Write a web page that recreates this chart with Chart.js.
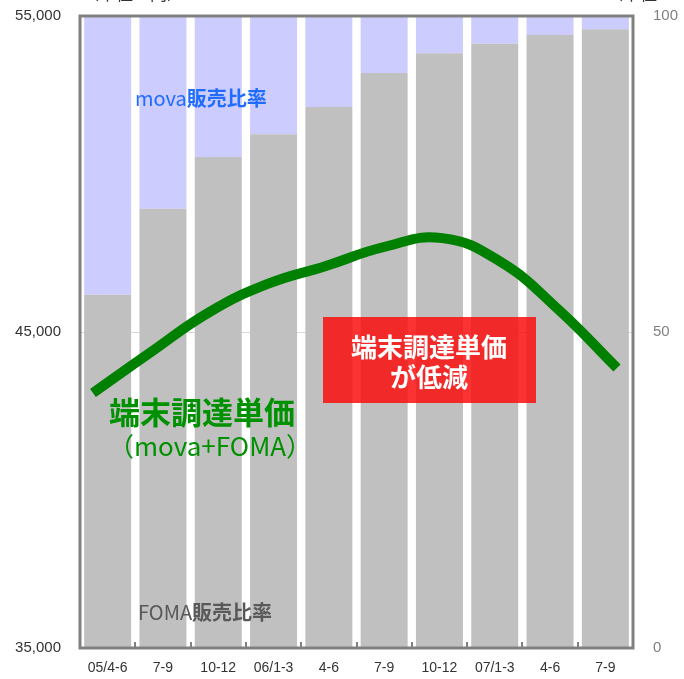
<!DOCTYPE html>
<html>
<head>
<meta charset="utf-8">
<script src="https://cdn.jsdelivr.net/npm/chart.js@4"></script>
<style>
  body { margin: 0; background: #fff; }
  #wrap { width: 684px; height: 679px; position: relative; }
</style>
</head>
<body>
<div id="wrap"><canvas id="chartTanka"></canvas></div>
<script>
// 四半期
var quarters = ['05/4-6', '7-9', '10-12', '06/1-3', '4-6', '7-9', '10-12', '07/1-3', '4-6', '7-9'];
// FOMA販売比率 (%)
var fomaRatio = [55.9, 69.5, 77.7, 81.3, 85.6, 91.0, 94.1, 95.6, 97.0, 97.9];
// mova販売比率 (%)
var movaRatio = fomaRatio.map(function(v) { return Math.round((100 - v) * 10) / 10; });
// 端末調達単価 (円)
var tanka = [43070, 44370, 45630, 46520, 47090, 47690, 47970, 47220, 45700, 43860];
// 軸の目盛
var yenTicks = [35000, 45000, 55000];
var pctTicks = [0, 50, 100];

var JP = '"Noto Sans CJK JP", "Noto Sans", sans-serif';
var LAT = '"Liberation Sans", Arial, sans-serif';

// 2種類の書体を続けて描く
function drawMixed(ctx, parts, x, y) {
    parts.forEach(function(p) {
        ctx.font = p.font;
        ctx.fillStyle = p.color;
        ctx.fillText(p.text, x, y);
        x += ctx.measureText(p.text).width;
    });
}

var labelsPlugin = {
    id: 'labels',
    afterDatasetsDraw: function(chart) {
        var ctx = chart.ctx;
        var a = chart.chartArea;
        var sx = chart.scales.x;
        ctx.save();

        // 枠
        ctx.strokeStyle = '#808080';
        ctx.lineWidth = 3;
        ctx.strokeRect(a.left, a.top, a.right - a.left, a.bottom - a.top);

        // 横軸の目盛（内向き）
        ctx.lineWidth = 2;
        ctx.beginPath();
        for (var i = 0; i < quarters.length - 1; i++) {
            var bx = Math.round((sx.getPixelForValue(i) + sx.getPixelForValue(i + 1)) / 2);
            ctx.moveTo(bx, a.bottom);
            ctx.lineTo(bx, a.bottom - 6);
        }
        ctx.stroke();

        ctx.textBaseline = 'middle';
        ctx.textAlign = 'left';
        drawMixed(ctx, [
            { text: 'mova', font: '20px ' + JP, color: '#1f6cff' },
            { text: '販売比率', font: 'bold 20px ' + JP, color: '#1f6cff' }
        ], 135, 98);
        drawMixed(ctx, [
            { text: 'FOMA', font: '20px ' + JP, color: '#595959' },
            { text: '販売比率', font: 'bold 20px ' + JP, color: '#595959' }
        ], 138, 612);

        // 端末調達単価ラベル
        ctx.fillStyle = '#009100';
        ctx.font = 'bold 31px ' + JP;
        ctx.fillText('端末調達単価', 109, 412);
        ctx.font = '26px ' + JP;
        ctx.fillText('（mova+FOMA）', 108, 446);

        // 赤い囲み
        ctx.fillStyle = 'rgba(250, 10, 10, 0.83)';
        ctx.fillRect(323, 317, 213, 86);
        ctx.fillStyle = '#ffffff';
        ctx.textAlign = 'center';
        ctx.font = 'bold 26px ' + JP;
        ctx.fillText('端末調達単価', 429, 347);
        ctx.fillText('が低減', 429, 377);

        // 単位（上端で切れている）
        ctx.fillStyle = '#333333';
        ctx.font = '17px ' + JP;
        ctx.textBaseline = 'bottom';
        ctx.textAlign = 'left';
        ctx.fillText('（単位：円）', 82, 2);
        ctx.fillText('（単位：％）', 606, 2);
        ctx.restore();
    }
};

var ctxTanka = document.getElementById('chartTanka').getContext('2d');
var chartTanka = new Chart(ctxTanka, {
    data: {
        labels: quarters,
        datasets: [{
            type: 'line',
            label: '端末調達単価',
            data: tanka.map(function(v, i) { return { x: i, y: v }; }),
            xAxisID: 'xl',
            yAxisID: 'y',
            borderColor: '#008000',
            borderWidth: 10,
            pointRadius: 0,
            tension: 0.45,
            fill: false,
            order: 0
        }, {
            type: 'bar',
            label: 'FOMA販売比率',
            data: fomaRatio,
            xAxisID: 'x',
            yAxisID: 'y2',
            stack: 'ratio',
            grouped: false,
            backgroundColor: '#c0c0c0',
            categoryPercentage: 1,
            barPercentage: 0.85,
            order: 1
        }, {
            type: 'bar',
            label: 'mova販売比率',
            data: movaRatio,
            xAxisID: 'x',
            yAxisID: 'y2',
            stack: 'ratio',
            grouped: false,
            backgroundColor: '#ccccff',
            categoryPercentage: 1,
            barPercentage: 0.85,
            order: 2
        }]
    },
    options: {
        responsive: true,
        maintainAspectRatio: false,
        animation: false,
        layout: { padding: { top: 16, left: 0, right: 0, bottom: 0 } },
        plugins: {
            legend: { display: false },
            tooltip: { enabled: false }
        },
        scales: {
            x: {
                stacked: true,
                grid: { display: false, drawTicks: false },
                border: { display: false },
                ticks: { color: '#333333', font: { family: LAT, size: 14 }, padding: 12, maxRotation: 0, autoSkip: false },
                afterFit: function(s) { s.height = 31; }
            },
            xl: {
                type: 'linear',
                display: false,
                min: -0.223,
                max: 9.275
            },
            y: {
                position: 'left',
                min: 35000,
                max: 55000,
                afterBuildTicks: function(s) { s.ticks = yenTicks.map(function(v) { return { value: v }; }); },
                grid: { color: '#d9d9d9', lineWidth: 1, drawTicks: false },
                border: { display: false },
                ticks: {
                    color: '#333333',
                    font: { family: LAT, size: 15 },
                    padding: 19,
                    callback: function(v) { return v.toLocaleString('en-US'); }
                },
                afterFit: function(s) { s.width = 80; s.paddingTop = 8; s.paddingBottom = 8; }
            },
            y2: {
                position: 'right',
                stacked: true,
                min: 0,
                max: 100,
                afterBuildTicks: function(s) { s.ticks = pctTicks.map(function(v) { return { value: v }; }); },
                grid: { display: false, drawTicks: false },
                border: { display: false },
                ticks: { color: '#808080', font: { family: LAT, size: 15 }, padding: 20 },
                afterFit: function(s) { s.width = 51; s.paddingTop = 8; s.paddingBottom = 8; }
            }
        }
    },
    plugins: [labelsPlugin]
});
</script>
</body>
</html>
